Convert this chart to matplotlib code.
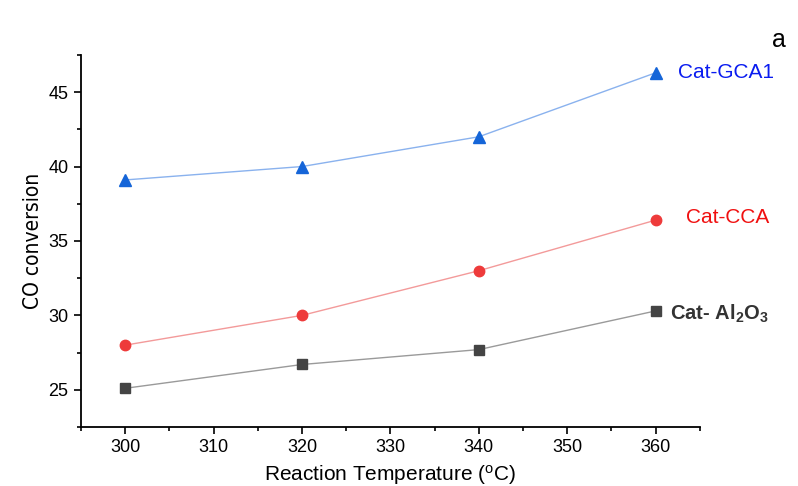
import numpy as np
import matplotlib
matplotlib.use("Agg")
import matplotlib.pyplot as plt
from matplotlib.ticker import MultipleLocator

plt.rcParams['font.family'] = ['Liberation Sans', 'DejaVu Sans']

# data
temps = [300, 320, 340, 360]
gca1 = [39.1, 40.0, 42.0, 46.3]
cca = [28.0, 30.0, 33.0, 36.4]
al2o3 = [25.1, 26.7, 27.7, 30.3]

fig = plt.figure(figsize=(7.98, 4.86), dpi=100)
ax = fig.add_axes([0.1015, 0.1214, 0.7755, 0.7656])

ax.plot(temps, gca1, color='#8ab2ee', lw=1.0, marker='^', ms=9,
        mfc='#1565d8', mec='#1565d8')
ax.plot(temps, cca, color='#f39a9a', lw=1.0, marker='o', ms=7.5,
        mfc='#ee3b3b', mec='#ee3b3b')
ax.plot(temps, al2o3, color='#9a9a9a', lw=1.0, marker='s', ms=6.5,
        mfc='#444444', mec='#444444')

ax.set_xlim(295, 365)
ax.set_ylim(22.5, 47.5)
ax.xaxis.set_major_locator(MultipleLocator(10))
ax.xaxis.set_minor_locator(MultipleLocator(5))
ax.yaxis.set_major_locator(MultipleLocator(5))
ax.yaxis.set_minor_locator(MultipleLocator(2.5))
ax.tick_params(which='major', direction='out', length=5, width=1.2,
               labelsize=13, pad=4)
ax.tick_params(which='minor', direction='out', length=3, width=1.2)

for s in ['top', 'right']:
    ax.spines[s].set_visible(False)
for s in ['left', 'bottom']:
    ax.spines[s].set_linewidth(1.3)

ax.set_xlabel('Reaction Temperature ($\\mathregular{^oC}$)', fontsize=15, labelpad=5)
ax.set_ylabel('CO conversion', fontsize=15, family='DejaVu Sans',
              fontstretch='condensed', labelpad=4)

ax.annotate('Cat-GCA1', xy=(temps[-1], gca1[-1]), xytext=(16, 0),
            textcoords='offset points', color='#0a1cf0', fontsize=15,
            va='center', ha='left', annotation_clip=False)
ax.annotate('Cat-CCA', xy=(temps[-1], cca[-1]), xytext=(22, 2),
            textcoords='offset points', color='#f01010', fontsize=15,
            va='center', ha='left', annotation_clip=False)
ax.annotate('Cat- Al$\\mathregular{_2}$O$\\mathregular{_3}$',
            xy=(temps[-1], al2o3[-1]), xytext=(10, -2),
            textcoords='offset points', color='#333333', fontsize=14.5,
            fontweight='bold', va='center', ha='left', annotation_clip=False)

fig.text(0.985, 0.917, 'a', fontsize=18, ha='right', va='center')

fig.savefig('out.png', dpi=100)
